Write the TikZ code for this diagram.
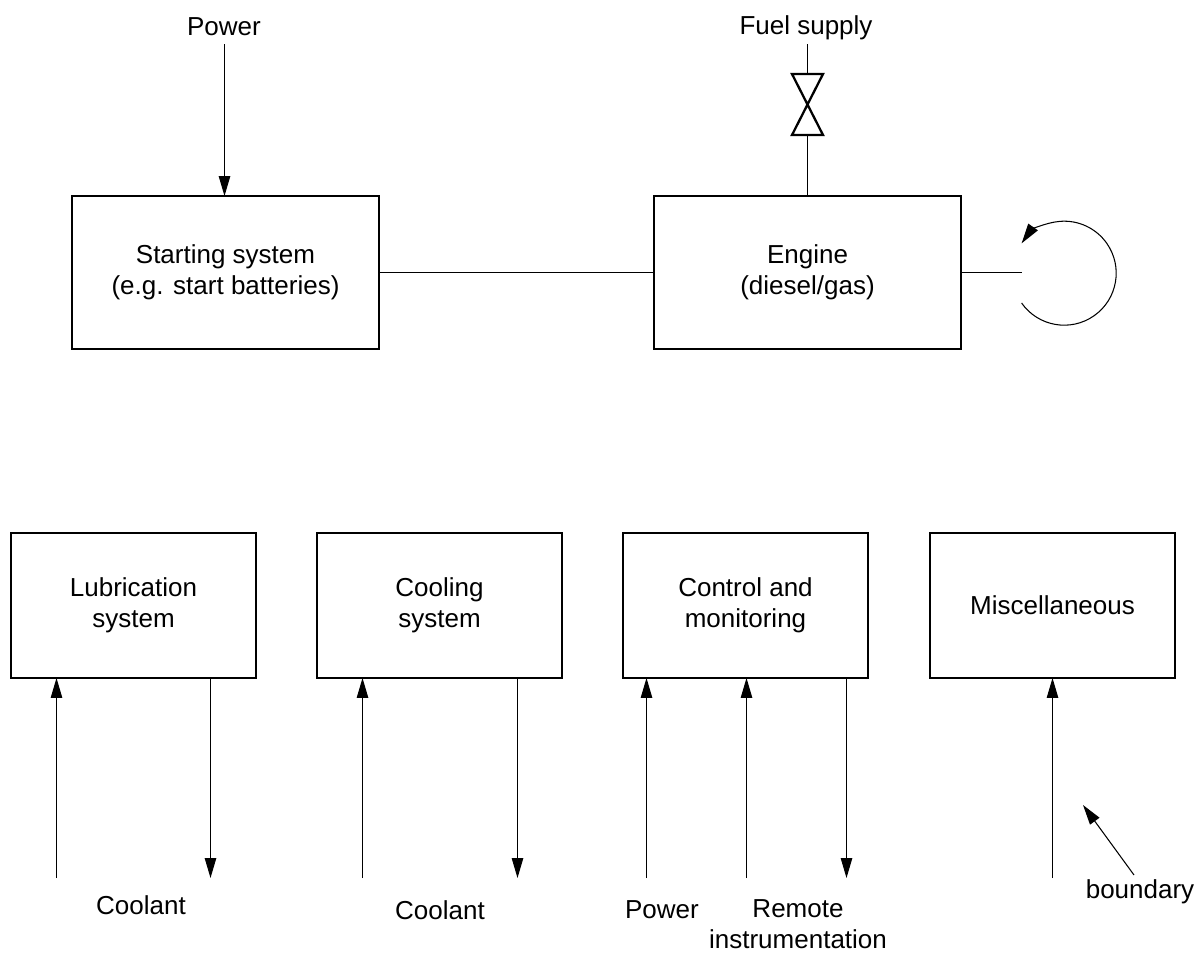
\documentclass[tikz,border=0pt]{standalone}
\usepackage{fontspec}
\setmainfont{Liberation Sans}
\usetikzlibrary{arrows.meta}
\tikzset{
    wide box/.style={rectangle, draw, line width=1.3pt, minimum width=6.14cm, minimum height=3.06cm, outer sep=0pt, align=center},
    small box/.style={rectangle, draw, line width=1.3pt, minimum width=4.9cm, minimum height=2.9cm, outer sep=0pt, align=center},
    label text/.style={align=center, inner sep=0pt},
    link/.style={line width=0.6pt},
    flow/.style={line width=0.6pt, -{Triangle[length=0.40cm, width=0.23cm]}},
    valve/.style={line width=1.3pt, line join=miter}
}

\begin{document}
\begin{tikzpicture}[x=0.02cm, y=-0.02cm, font=\fontsize{14.8}{17.8}\selectfont]
    \useasboundingbox (0,0) rectangle (1200,954);

    % Top row
    \node[wide box] (starting) at (225.5,272.5) {Starting system\\(e.g. start batteries)};
    \node[wide box] (engine) at (807.5,272.5) {Engine\\(diesel/gas)};

    % Bottom row
    \node[small box] (lube) at (133.5,605.5) {Lubrication\\system};
    \node[small box] (cooling) at (439.5,605.5) {Cooling\\system};
    \node[small box] (control) at (745.5,605.5) {Control and\\monitoring};
    \node[small box] (misc) at (1052.5,605.5) {Miscellaneous};

    % Labels
    \node[label text] (powertop) at (224,27) {Power};
    \node[label text] (fuel) at (806,28) {Fuel supply};
    \node[label text] (coolantA) at (141,905) {Coolant};
    \node[label text] (coolantB) at (440,910) {Coolant};
    \node[label text] (powerbot) at (662,910) {Power};
    \node[label text] (remote) at (798,924.5) {Remote\\instrumentation};
    \node[label text] (boundary) at (1140,892) {boundary};

    % Free ends
    \coordinate (powerstart) at (224.5,44);
    \coordinate (fuelstart) at (807.5,44);
    \coordinate (valvetop) at (807.5,74);
    \coordinate (valvebot) at (807.5,135);
    \coordinate (shaftend) at (1022,272.5);
    \coordinate (spinstart) at (1021.6,303);
    \coordinate (lubein) at (56.5,878);
    \coordinate (lubeout) at (210.5,878);
    \coordinate (coolin) at (362.5,878);
    \coordinate (coolout) at (517.5,878);
    \coordinate (ctrlpower) at (646.5,878);
    \coordinate (ctrlremote) at (746.5,878);
    \coordinate (ctrlout) at (846.5,878);
    \coordinate (miscin) at (1052.5,878);
    \coordinate (boundstart) at (1134,875);
    \coordinate (boundend) at (1083,805);

    % Top connectors
    \draw[flow] (powerstart) -- (powerstart |- starting.north);
    \draw[link] (starting) -- (engine);
    \draw[link] (fuelstart) -- (valvetop);
    \draw[link] (valvebot) -- (valvebot |- engine.north);
    \draw[link] (engine.east) -- (shaftend);

    % Valve
    \draw[valve] (792,74) -- (823,74) -- (792,135) -- (823,135) -- cycle;

    % Rotation
    \draw[flow] (spinstart) arc[start angle=145, end angle=-145, radius=52];

    % Bottom connectors
    \draw[flow] (lubein) -- (lubein |- lube.south);
    \draw[flow] (lubeout |- lube.south) -- (lubeout);
    \draw[flow] (coolin) -- (coolin |- cooling.south);
    \draw[flow] (coolout |- cooling.south) -- (coolout);
    \draw[flow] (ctrlpower) -- (ctrlpower |- control.south);
    \draw[flow] (ctrlremote) -- (ctrlremote |- control.south);
    \draw[flow] (ctrlout |- control.south) -- (ctrlout);
    \draw[flow] (miscin) -- (miscin |- misc.south);
    \draw[flow] (boundstart) -- (boundend);
\end{tikzpicture}
\end{document}
